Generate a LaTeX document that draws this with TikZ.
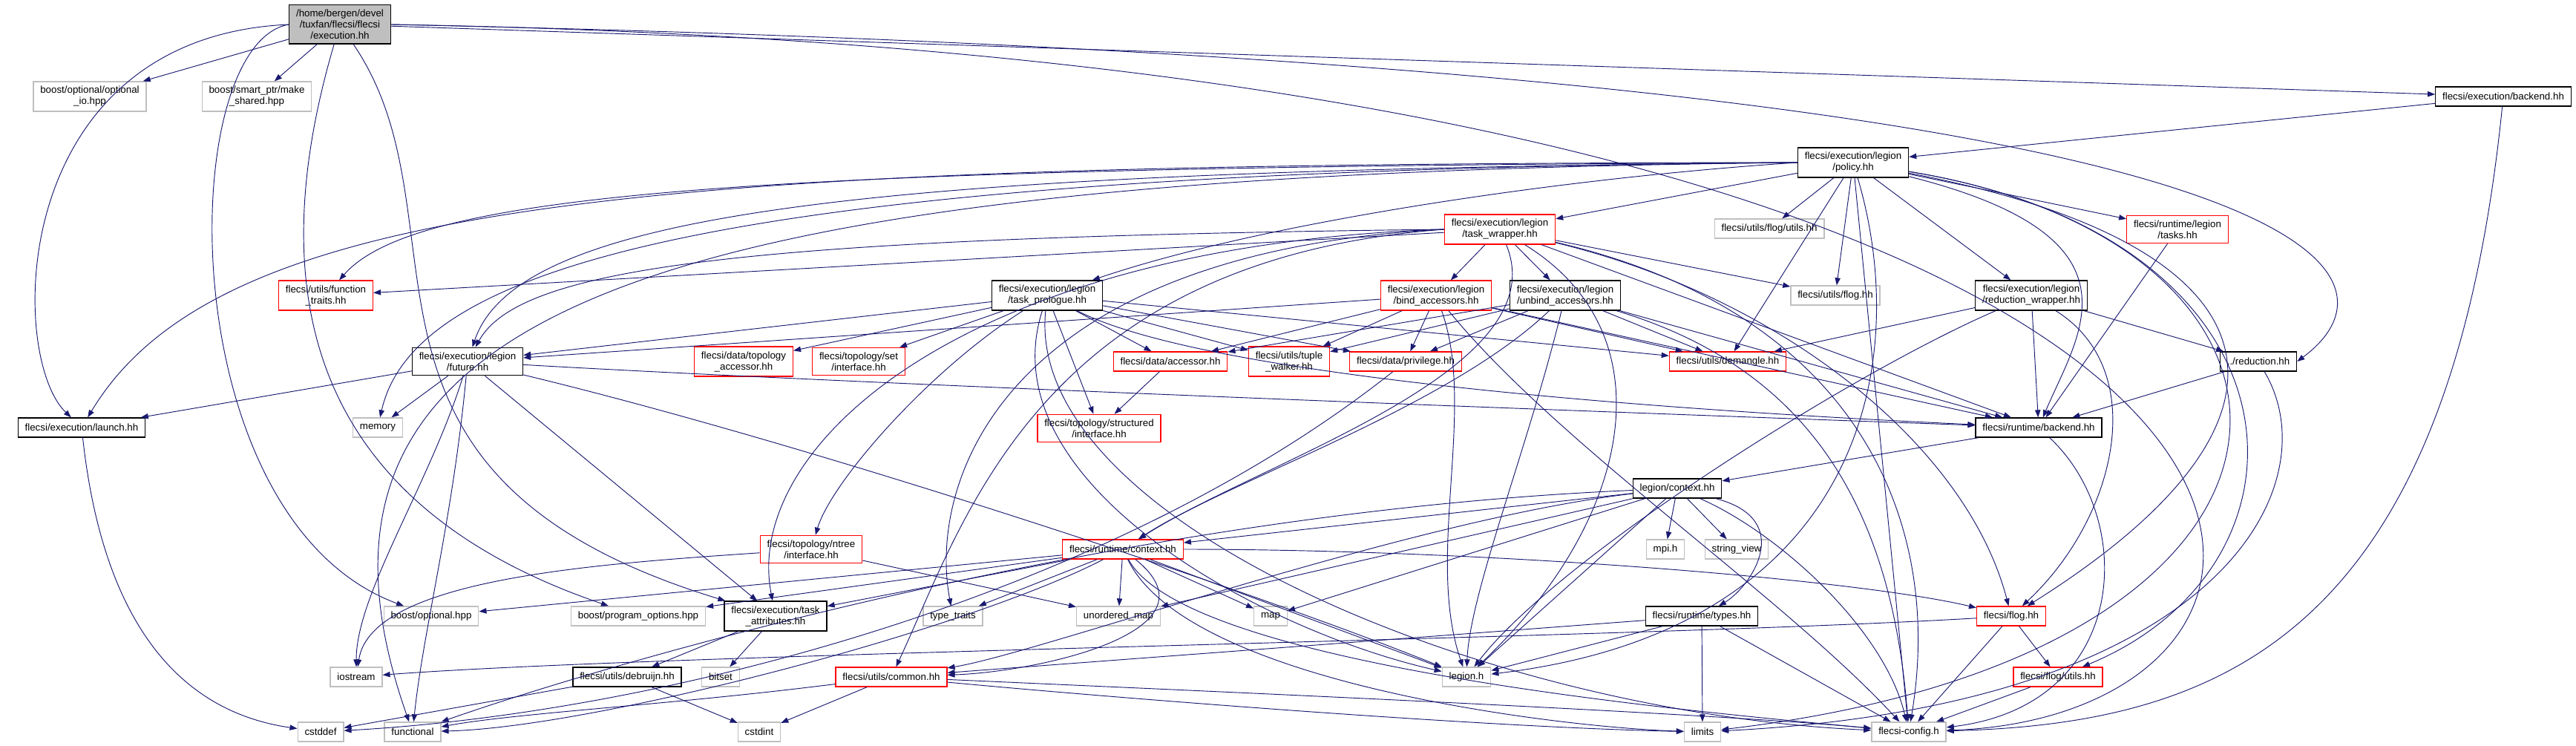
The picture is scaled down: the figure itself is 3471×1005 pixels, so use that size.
\documentclass[tikz,border=0pt]{standalone}
\usepackage{fontspec}
\setmainfont{Liberation Sans}
\usepackage{xcolor}
\usepackage{tikz}
\usetikzlibrary{arrows.meta}

\definecolor{edgeblue}{HTML}{191970}
\definecolor{extgray}{HTML}{BFBFBF}

\tikzset{
  file/.style={draw=black, fill=white, line width=1pt, align=center,
    inner xsep=7pt, inner ysep=4.7pt, minimum height=19.5pt,
    font=\fontsize{10}{11.25}\selectfont},
  redfile/.style={file, draw=red},
  extfile/.style={file, draw=extgray},
  rootfile/.style={file, fill=extgray},
  inc/.style={draw=edgeblue, line width=0.7pt, -{Triangle[length=7.5pt,width=5.5pt]}},
}

\begin{document}
\begin{tikzpicture}[x=0.75pt, y=-0.75pt]
    \useasboundingbox (0,0) rectangle (3471,1005);

    \node[rootfile] (root) at (458,33) {/home/bergen/devel\\/tuxfan/flecsi/flecsi\\/execution.hh};
    \node[extfile] (optio) at (121,130) {boost/optional/optional\\\_io.hpp};
    \node[extfile] (mkshr) at (346,130) {boost/smart\_ptr/make\\\_shared.hpp};
    \node[file] (execbe) at (3373,130) {flecsi/execution/backend.hh};
    \node[file] (policy) at (2497,219) {flecsi/execution/legion\\/policy.hh};
    \node[redfile] (taskwrap) at (2021,309) {flecsi/execution/legion\\/task\_wrapper.hh};
    \node[extfile] (flogutilg) at (2384,308) {flecsi/utils/flog/utils.hh};
    \node[redfile] (tasks) at (2934,309) {flecsi/runtime/legion\\/tasks.hh};
    \node[redfile] (functr) at (439,398) {flecsi/utils/function\\\_traits.hh};
    \node[file] (taskpro) at (1411,398) {flecsi/execution/legion\\/task\_prologue.hh};
    \node[redfile] (bindacc) at (1935,398) {flecsi/execution/legion\\/bind\_accessors.hh};
    \node[file] (unbindacc) at (2109,398) {flecsi/execution/legion\\/unbind\_accessors.hh};
    \node[extfile] (flogg) at (2473,398) {flecsi/utils/flog.hh};
    \node[file] (redwrap) at (2737,398) {flecsi/execution/legion\\/reduction\_wrapper.hh};
    \node[file] (future) at (630,487) {flecsi/execution/legion\\/future.hh};
    \node[redfile] (topoacc) at (1002,487) {flecsi/data/topology\\\_accessor.hh};
    \node[redfile] (setint) at (1157,487) {flecsi/topology/set\\/interface.hh};
    \node[redfile] (dataacc) at (1577,487) {flecsi/data/accessor.hh};
    \node[redfile] (tuplew) at (1737,487) {flecsi/utils/tuple\\\_walker.hh};
    \node[redfile] (privil) at (1894,487) {flecsi/data/privilege.hh};
    \node[redfile] (demangle) at (2328,487) {flecsi/utils/demangle.hh};
    \node[file] (reduc) at (3043,487) {../reduction.hh};
    \node[file] (launch) at (110,576) {flecsi/execution/launch.hh};
    \node[extfile] (memory) at (509,576) {memory};
    \node[redfile] (structint) at (1481,577) {flecsi/topology/structured\\/interface.hh};
    \node[file] (rtbe) at (2747,576) {flecsi/runtime/backend.hh};
    \node[file] (legctx) at (2260,658) {legion/context.hh};
    \node[redfile] (ntree) at (1093,740) {flecsi/topology/ntree\\/interface.hh};
    \node[redfile] (rtctx) at (1513,740) {flecsi/runtime/context.hh};
    \node[extfile] (mpih) at (2244,740) {mpi.h};
    \node[extfile] (strview) at (2340,740) {string\_view};
    \node[extfile] (boostopt) at (581,830) {boost/optional.hpp};
    \node[extfile] (progopt) at (860,830) {boost/program\_options.hpp};
    \node[file] (taskattr) at (1045,830) {flecsi/execution/task\\\_attributes.hh};
    \node[extfile] (typetr) at (1284,830) {type\_traits};
    \node[extfile] (umap) at (1507,830) {unordered\_map};
    \node[extfile] (stdmap) at (1712,830) {map};
    \node[file] (rttypes) at (2293,830) {flecsi/runtime/types.hh};
    \node[redfile] (flog) at (2710,830) {flecsi/flog.hh};
    \node[extfile] (iostream) at (480,912) {iostream};
    \node[file] (debruijn) at (845,912) {flecsi/utils/debruijn.hh};
    \node[extfile] (bitset) at (971,912) {bitset};
    \node[redfile] (common) at (1201,912) {flecsi/utils/common.hh};
    \node[extfile] (legionh) at (1976,912) {legion.h};
    \node[redfile] (flogutil) at (2773,912) {flecsi/flog/utils.hh};
    \node[extfile] (cstddef) at (432,986) {cstddef};
    \node[extfile] (functional) at (556,986) {functional};
    \node[extfile] (cstdint) at (1023,986) {cstdint};
    \node[extfile] (limits) at (2294,986) {limits};
    \node[extfile] (config) at (2572,986) {flecsi-config.h};

    \draw[inc] (root) -- (optio);
    \draw[inc] (root) -- (mkshr);
    \draw[inc] (root.west) .. controls (10,50) and (10,480) .. (launch);
    \draw[inc] (root.west) .. controls (235,60) and (230,700) .. (boostopt);
    \draw[inc] (root) .. controls (350,400) and (420,680) .. (progopt);
    \draw[inc] (root) .. controls (640,300) and (420,640) .. (taskattr);
    \draw[inc] (root) -- (execbe);
    \draw[inc] (root.east) .. controls (3250,90) and (3240,380) .. (reduc.east);
    \draw[inc] (root.east) .. controls (3260,80) and (3250,960) .. (config);

    \draw[inc] (execbe) -- (policy);
    \draw[inc] (execbe) .. controls (3300,850) and (3000,975) .. (config);

    \draw[inc] (policy) -- (taskwrap);
    \draw[inc] (policy) -- (flogutilg);
    \draw[inc] (policy) -- (tasks);
    \draw[inc] (policy) -- (redwrap);
    \draw[inc] (policy.west) .. controls (2100,240) and (1700,300) .. (taskpro);
    \draw[inc] (policy.west) .. controls (1200,230) and (700,280) .. (future);
    \draw[inc] (policy.west) .. controls (1000,225) and (560,260) .. (functr);
    \draw[inc] (policy.west) .. controls (900,220) and (300,260) .. (launch);
    \draw[inc] (policy.west) .. controls (1000,230) and (560,350) .. (memory);
    \draw[inc] (policy.west) .. controls (900,235) and (350,400) .. (functional);
    \draw[inc] (policy) -- (demangle);
    \draw[inc] (policy) .. controls (2900,320) and (2800,450) .. (rtbe);
    \draw[inc] (policy) .. controls (3080,330) and (3140,560) .. (flog);
    \draw[inc] (policy) .. controls (3120,320) and (3140,760) .. (flogutil);
    \draw[inc] (policy) .. controls (3180,330) and (3190,880) .. (limits);
    \draw[inc] (policy) -- (config);
    \draw[inc] (policy) .. controls (2580,500) and (2500,850) .. (legionh);
    \draw[inc] (policy) -- (flogg);

    \draw[inc] (taskwrap) -- (bindacc);
    \draw[inc] (taskwrap) -- (unbindacc);
    \draw[inc] (taskwrap) -- (flogg);
    \draw[inc] (taskwrap) -- (functr);
    \draw[inc] (taskwrap.west) .. controls (1000,320) and (700,360) .. (future);
    \draw[inc] (taskwrap.west) .. controls (1300,330) and (1000,600) .. (taskattr);
    \draw[inc] (taskwrap.west) .. controls (1350,340) and (1250,650) .. (typetr);
    \draw[inc] (taskwrap.west) .. controls (1400,350) and (1300,700) .. (common);
    \draw[inc] (taskwrap) .. controls (2250,450) and (2200,700) .. (legionh);
    \draw[inc] (taskwrap) -- (rtbe);
    \draw[inc] (taskwrap) .. controls (2400,400) and (2650,600) .. (flog);
    \draw[inc] (taskwrap) .. controls (2500,420) and (2620,700) .. (config);
    \draw[inc] (taskwrap) .. controls (2100,500) and (1700,620) .. (rtctx);

    \draw[inc] (tasks) -- (rtbe);

    \draw[inc] (redwrap) -- (demangle);
    \draw[inc] (redwrap) -- (reduc);
    \draw[inc] (redwrap) -- (rtbe);
    \draw[inc] (redwrap) .. controls (2900,500) and (2850,700) .. (flog);
    \draw[inc] (redwrap) .. controls (2500,500) and (2100,750) .. (legionh);

    \draw[inc] (reduc) -- (rtbe);
    \draw[inc] (reduc) .. controls (3140,650) and (3000,950) .. (limits);

    \draw[inc] (taskpro) -- (future);
    \draw[inc] (taskpro) -- (topoacc);
    \draw[inc] (taskpro) -- (setint);
    \draw[inc] (taskpro) .. controls (1250,500) and (1120,650) .. (ntree);
    \draw[inc] (taskpro) -- (structint);
    \draw[inc] (taskpro) -- (dataacc);
    \draw[inc] (taskpro) -- (tuplew);
    \draw[inc] (taskpro) -- (privil);
    \draw[inc] (taskpro) -- (demangle);
    \draw[inc] (taskpro) .. controls (1650,520) and (2400,560) .. (rtbe);
    \draw[inc] (taskpro) .. controls (1330,650) and (1700,850) .. (legionh);
    \draw[inc] (taskpro) .. controls (1380,700) and (2000,960) .. (config);

    \draw[inc] (bindacc) -- (future);
    \draw[inc] (bindacc) -- (tuplew);
    \draw[inc] (bindacc) -- (privil);
    \draw[inc] (bindacc) -- (dataacc);
    \draw[inc] (bindacc) -- (demangle);
    \draw[inc] (bindacc) -- (rtbe);
    \draw[inc] (bindacc) .. controls (1990,550) and (1920,750) .. (legionh);
    \draw[inc] (bindacc) .. controls (2100,600) and (2400,800) .. (config);

    \draw[inc] (unbindacc) -- (tuplew);
    \draw[inc] (unbindacc) -- (privil);
    \draw[inc] (unbindacc) -- (dataacc);
    \draw[inc] (unbindacc) -- (demangle);
    \draw[inc] (unbindacc) -- (rtbe);
    \draw[inc] (unbindacc) .. controls (2060,600) and (1980,800) .. (legionh);
    \draw[inc] (unbindacc) .. controls (2450,500) and (2550,700) .. (config);
    \draw[inc] (unbindacc) .. controls (1950,550) and (1650,650) .. (rtctx);

    \draw[inc] (dataacc) -- (structint);
    \draw[inc] (privil) .. controls (1500,800) and (900,960) .. (cstddef);

    \draw[inc] (future) -- (launch);
    \draw[inc] (future) -- (memory);
    \draw[inc] (future) .. controls (580,650) and (480,800) .. (iostream);
    \draw[inc] (future) .. controls (610,700) and (570,850) .. (functional);
    \draw[inc] (future) -- (taskattr);
    \draw[inc] (future) .. controls (1100,600) and (1700,800) .. (legionh);
    \draw[inc] (future) .. controls (1200,520) and (2300,560) .. (rtbe);

    \draw[inc] (ntree) .. controls (800,760) and (500,780) .. (iostream);
    \draw[inc] (ntree) -- (umap);

    \draw[inc] (rtctx) -- (boostopt);
    \draw[inc] (rtctx) -- (progopt);
    \draw[inc] (rtctx) -- (taskattr);
    \draw[inc] (rtctx) -- (typetr);
    \draw[inc] (rtctx) -- (umap);
    \draw[inc] (rtctx) -- (stdmap);
    \draw[inc] (rtctx) .. controls (1650,850) and (1400,905) .. (common);
    \draw[inc] (rtctx) .. controls (2000,740) and (2500,780) .. (flog);
    \draw[inc] (rtctx) .. controls (1300,850) and (800,980) .. (functional);
    \draw[inc] (rtctx) -- (legionh);
    \draw[inc] (rtctx) .. controls (1600,900) and (2300,960) .. (config);
    \draw[inc] (rtctx) .. controls (1600,920) and (2100,980) .. (limits);

    \draw[inc] (legctx) -- (rtctx);
    \draw[inc] (legctx) -- (mpih);
    \draw[inc] (legctx) -- (strview);
    \draw[inc] (legctx) .. controls (2420,700) and (2360,790) .. (rttypes);
    \draw[inc] (legctx) -- (legionh);
    \draw[inc] (legctx) .. controls (2400,720) and (2540,850) .. (config);
    \draw[inc] (legctx) -- (stdmap);
    \draw[inc] (legctx) -- (umap);
    \draw[inc] (legctx) .. controls (1500,690) and (800,900) .. (functional);
    \draw[inc] (legctx) .. controls (1900,700) and (1400,880) .. (common);

    \draw[inc] (rtbe) -- (legctx);
    \draw[inc] (rtbe) .. controls (2880,700) and (2870,950) .. (config);

    \draw[inc] (rttypes) -- (common);
    \draw[inc] (rttypes) -- (legionh);
    \draw[inc] (rttypes) -- (limits);
    \draw[inc] (rttypes) -- (config);

    \draw[inc] (flog) .. controls (2200,860) and (900,880) .. (iostream);
    \draw[inc] (flog) -- (flogutil);
    \draw[inc] (flog) -- (config);
    \draw[inc] (flogutil) -- (config);

    \draw[inc] (common) -- (cstdint);
    \draw[inc] (common) .. controls (900,950) and (700,960) .. (functional);
    \draw[inc] (common) .. controls (1500,940) and (2000,980) .. (limits);
    \draw[inc] (common) .. controls (1600,930) and (2300,960) .. (config);

    \draw[inc] (debruijn) -- (cstddef);
    \draw[inc] (debruijn) -- (cstdint);
    \draw[inc] (taskattr) -- (debruijn);
    \draw[inc] (taskattr) -- (bitset);
    \draw[inc] (launch) .. controls (140,850) and (250,960) .. (cstddef);
  \end{tikzpicture}
\end{document}
